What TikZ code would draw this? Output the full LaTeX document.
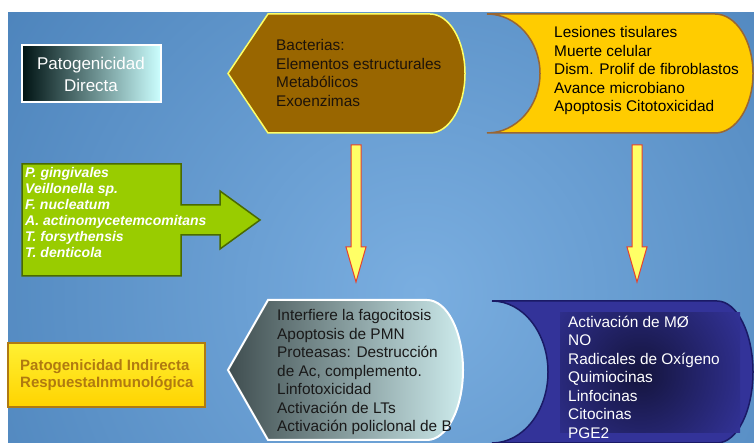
\documentclass[tikz,border=0pt]{standalone}
\usepackage{fontspec}
\setmainfont{Liberation Sans}
\usetikzlibrary{calc}
\definecolor{fondo}{HTML}{3C74AE}
\definecolor{fondoclaro}{HTML}{7AAEE0}
\definecolor{cafe}{HTML}{996600}
\definecolor{bordeamarillo}{HTML}{FFFF66}
\definecolor{naranja}{HTML}{FFCC00}
\definecolor{bordecafe}{HTML}{996633}
\definecolor{verde}{HTML}{99CC00}
\definecolor{bordeverde}{HTML}{4A6A00}
\definecolor{azulosc}{HTML}{333399}
\definecolor{bordeazul}{HTML}{1A1A66}
\definecolor{amarillo}{HTML}{FFFF66}
\definecolor{rojo}{HTML}{E8402A}
\definecolor{textoind}{HTML}{B07A10}
\definecolor{grisosc}{HTML}{3F4D4F}
\definecolor{grismed}{HTML}{9CC4C6}
\definecolor{grisclaro}{HTML}{CDEBEC}
\def\flecha(#1)(#2){\draw[flechaamarilla] ($(#1)+(-5,0)$) -- ($(#2)+(-5,35)$) -- ($(#2)+(-10,35)$) -- (#2) -- ($(#2)+(10,35)$) -- ($(#2)+(5,35)$) -- ($(#1)+(5,0)$) -- cycle;}
\tikzset{
	texto/.style={anchor=west, align=left, inner sep=0pt, font=\fontsize{15.4}{18.5}\selectfont},
	flechaamarilla/.style={fill=amarillo, draw=rojo, line width=1pt},
}

\begin{document}
\begin{tikzpicture}[x=1pt, y=1pt]
		%%%%% START %%%%%
		\useasboundingbox (0,0) rectangle (754,443);
		\fill[white] (0,0) rectangle (754,443);
		\fill[color=fondo] (8,0) rectangle (754,430);
		\begin{scope}
			\clip (8,0) rectangle (754,430);
			\shade[inner color=fondoclaro, outer color=fondo] (420,150) circle (700pt);
		\end{scope}
		
		\draw[left color=black!85!teal, right color=cyan!20!white, draw=white, line width=2pt] (22,398) rectangle (161,341);
		\node[align=center, inner sep=0pt, color=white, font=\fontsize{17}{22}\selectfont] (directa) at (91,369) {Patogenicidad\\Directa};
		
		\draw[fill=cafe, draw=bordeamarillo, line width=1.5pt] (268,429) -- (430,429) arc[start angle=90, end angle=-90, x radius=35pt, y radius=59.5pt] -- (268,310) -- (228,369.5) -- cycle;
		\node[texto, color=black!85!brown] (bacterias) at (276,370) {Bacterias:\\Elementos estructurales\\Metabólicos\\Exoenzimas};
		
		\draw[fill=naranja, draw=bordecafe, line width=1.5pt] (487,429) -- (715,429) arc[start angle=90, end angle=-90, x radius=38pt, y radius=59.5pt] -- (487,310) arc[start angle=-90, end angle=90, x radius=53pt, y radius=59.5pt] -- cycle;
		\node[texto, color=black] (lesiones) at (554,372) {Lesiones tisulares\\Muerte celular\\Dism. Prolif de fibroblastos\\Avance\ microbiano\\Apoptosis Citotoxicidad};
		
		\draw[fill=verde, draw=bordeverde, line width=1.5pt] (22,279) -- (181,279) -- (181,238) -- (220,238) -- (220,252) -- (260,223) -- (220,194) -- (220,208) -- (181,208) -- (181,167) -- (22,167) -- cycle;
		\node[anchor=west, align=left, inner sep=0pt, color=white, font=\fontsize{14}{16}\selectfont\bfseries\itshape] (bacilos) at (25,230) {P. gingivales\\Veillonella sp.\\F. nucleatum\\A. actinomycetemcomitans\\T. forsythensis\\T. denticola};
		
		\coordinate (a1) at (356,298);
		\coordinate (a2) at (356,161);
		\coordinate (b1) at (637,298);
		\coordinate (b2) at (637,161);
		\flecha(a1)(a2)
		\flecha(b1)(b2)
		
		\draw[top color=yellow!85!orange!80!white, bottom color=naranja!85!yellow, draw=textoind, line width=2pt] (8,100) rectangle (205,36);
		\node[anchor=west, align=left, inner sep=0pt, color=textoind, font=\fontsize{15}{17}\selectfont\bfseries] (indirecta) at (20,67.5) {Patogenicidad Indirecta\\RespuestaInmunológica};
		
		\draw[left color=grisosc, middle color=grismed, right color=grisclaro, draw=white, line width=2pt] (268,143) -- (427,143) arc[start angle=90, end angle=-90, x radius=36pt, y radius=70pt] -- (268,3) -- (228,73) -- cycle;
		\node[texto, color=black!90] (interfiere) at (277,70.5) {Interfiere la fagocitosis\\Apoptosis de PMN\\Proteasas: Destrucción\\de Ac, complemento.\\Linfotoxicidad\\Activación de LTs\\Activación policlonal de B};
		
		\draw[fill=azulosc, draw=bordeazul, line width=1.5pt] (492,142) -- (717,142) arc[start angle=90, end angle=-90, x radius=36pt, y radius=71pt] -- (492,0) arc[start angle=-90, end angle=90, x radius=56pt, y radius=71pt] -- cycle;
		\begin{scope}
			\clip (560,130) rectangle (740,10);
			\shade[inner color=black!60!azulosc, outer color=azulosc] (640,70) circle (120pt);
		\end{scope}
		\node[texto, color=white] (activacion) at (568,66) {Activación de MØ\\NO\\Radicales de Oxígeno\\Quimiocinas\\Linfocinas\\Citocinas\\PGE2};
		
		%%%%% END %%%%%
	\end{tikzpicture}
\end{document}
